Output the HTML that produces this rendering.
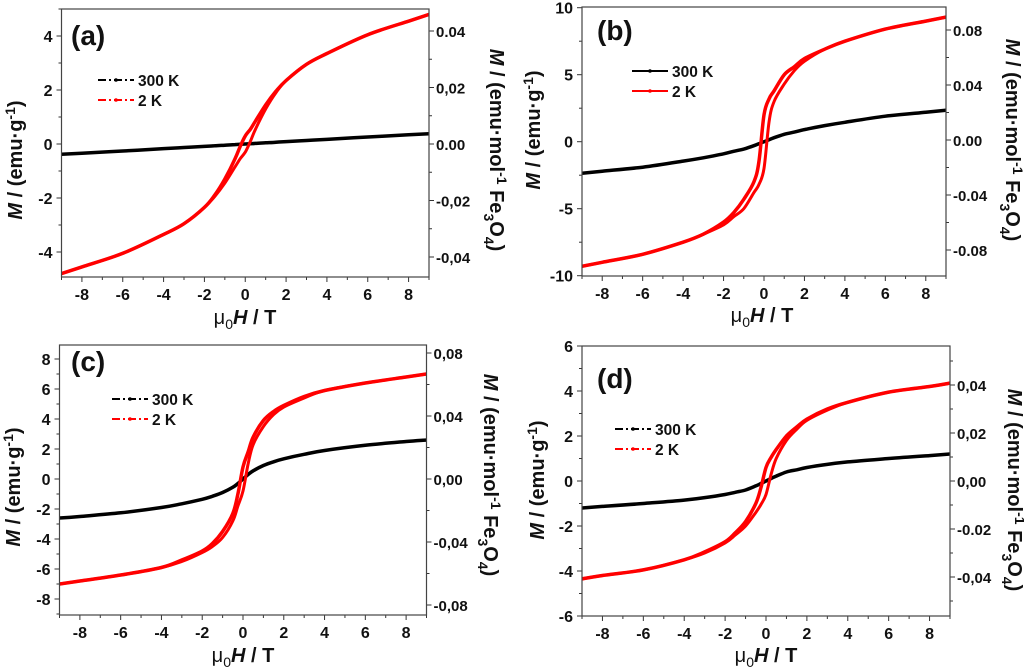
<!DOCTYPE html>
<html><head><meta charset="utf-8"><style>
html,body{margin:0;padding:0;background:#fff;}
svg{display:block;font-family:"Liberation Sans",Arial,sans-serif;font-weight:bold;}
</style></head><body>
<svg id="fig" width="1024" height="671" viewBox="0 0 1024 671" xmlns="http://www.w3.org/2000/svg"></svg>
<script>
// Field values (T)
const fieldH = [-9,-8,-6,-4,-3,-2,-1.5,-1,-0.5,-0.25,0,0.25,0.5,1,1.5,2,3,4,6,8,9];
// Panel (a)
const a2KDown = [-4.8,-4.55,-4.05,-3.35,-2.95,-2.35,-1.9,-1.3,-0.55,-0.1,0.3,0.55,0.85,1.45,1.95,2.35,2.95,3.35,4.05,4.55,4.8];
const a2KUp   = [-4.8,-4.55,-4.05,-3.35,-2.95,-2.35,-1.95,-1.45,-0.85,-0.55,-0.3,0.1,0.55,1.3,1.9,2.35,2.95,3.35,4.05,4.55,4.8];
const a300K   = [-0.38,-0.34,-0.26,-0.17,-0.13,-0.09,-0.065,-0.043,-0.022,-0.011,0,0.011,0.022,0.043,0.065,0.09,0.13,0.17,0.26,0.34,0.38];
// Panel (b)
const b2KDown = [-9.3,-9.0,-8.4,-7.5,-6.9,-6.0,-5.3,-4.3,-3.0,-1.5,2.0,3.2,3.8,5.0,5.6,6.2,6.9,7.5,8.4,9.0,9.3];
const b2KUp   = [-9.3,-9.0,-8.4,-7.5,-6.9,-6.2,-5.6,-5.0,-3.8,-3.2,-2.0,1.5,3.0,4.3,5.3,6.0,6.9,7.5,8.4,9.0,9.3];
const b300K   = [-2.35,-2.2,-1.9,-1.45,-1.2,-0.9,-0.72,-0.55,-0.3,-0.15,0,0.15,0.3,0.55,0.72,0.9,1.2,1.45,1.9,2.2,2.35];
// Panel (c)
const c2KDown = [-7.0,-6.8,-6.4,-5.9,-5.4,-4.8,-4.3,-3.5,-2.3,-1.0,0.8,1.8,2.8,3.9,4.5,4.9,5.5,5.9,6.4,6.8,7.0];
const c2KUp   = [-7.0,-6.8,-6.4,-5.9,-5.5,-4.9,-4.5,-3.9,-2.8,-1.8,-0.8,1.0,2.3,3.5,4.3,4.8,5.4,5.9,6.4,6.8,7.0];
const c300K   = [-2.6,-2.5,-2.25,-1.9,-1.65,-1.35,-1.15,-0.9,-0.55,-0.3,0,0.3,0.55,0.9,1.15,1.35,1.65,1.9,2.25,2.5,2.6];
// Panel (d)
const d2KDown = [-4.35,-4.2,-3.95,-3.5,-3.15,-2.7,-2.3,-1.8,-1.0,-0.3,0.6,1.05,1.4,2.0,2.4,2.75,3.2,3.5,3.95,4.2,4.35];
const d2KUp   = [-4.35,-4.2,-3.95,-3.5,-3.2,-2.75,-2.4,-2.0,-1.4,-1.05,-0.6,0.3,1.0,1.8,2.3,2.7,3.15,3.5,3.95,4.2,4.35];
const d300K   = [-1.2,-1.13,-1.0,-0.85,-0.74,-0.6,-0.5,-0.4,-0.22,-0.11,0,0.11,0.22,0.4,0.5,0.6,0.74,0.85,1.0,1.13,1.2];
// Tick labels
const xTicks = [-8,-6,-4,-2,0,2,4,6,8];
const aLeftTicks = [-4,-2,0,2,4];
const bLeftTicks = [-10,-5,0,5,10];
const cLeftTicks = [-8,-6,-4,-2,0,2,4,6,8];
const dLeftTicks = [-6,-4,-2,0,2,4,6];
const aRightTicks = [-0.04,-0.02,0,0.02,0.04];
const aRightLabels = ["-0,04","-0,02","0.00","0,02","0.04"];
const bRightTicks = [-0.08,-0.04,0,0.04,0.08];
const bRightLabels = ["-0.08","-0.04","0.00","0.04","0.08"];
const cRightTicks = [-0.08,-0.04,0,0.04,0.08];
const cRightLabels = ["-0,08","-0,04","0,00","0,04","0,08"];
const dRightTicks = [-0.04,-0.02,0,0.02,0.04];
const dRightLabels = ["-0,04","-0.02","0,00","0,02","0,04"];

const NS="http://www.w3.org/2000/svg";
const svg=document.getElementById('fig');
function mk(tag,attrs,parent){const e=document.createElementNS(NS,tag);for(const k in attrs)e.setAttribute(k,attrs[k]);(parent||svg).appendChild(e);return e;}

const panels=[
 {id:'a',x0:61.5,x1:429,top:9,bot:277,yPx0:144,yPx1:36,yv0:0,yv1:4,lt:aLeftTicks,lminor:1,
  r0:144,r1:31,rv1:0.04,rt:aRightTicks,rl:aRightLabels,rminor:0.01,down:a2KDown,up:a2KUp,rt300:a300K,
  leg:[98,80],label:[71,45],ltitle:[22,160],rtitle:[490,150],xtitle:[245,324]},
 {id:'b',x0:582,x1:946,top:7,bot:276,yPx0:141.7,yPx1:74.7,yv0:0,yv1:5,lt:bLeftTicks,lminor:2.5,
  r0:140,r1:85,rv1:0.04,rt:bRightTicks,rl:bRightLabels,rminor:0.02,down:b2KDown,up:b2KUp,rt300:b300K,
  leg:[632,71],label:[597,40],ltitle:[540,130],rtitle:[1006,140],xtitle:[762,322]},
 {id:'c',x0:59.5,x1:426.5,top:345,bot:615,yPx0:479,yPx1:449,yv0:0,yv1:2,lt:cLeftTicks,lminor:1,
  r0:479,r1:416,rv1:0.04,rt:cRightTicks,rl:cRightLabels,rminor:0.02,down:c2KDown,up:c2KUp,rt300:c300K,
  leg:[112,399],label:[71,371],ltitle:[20,487],rtitle:[484,475],xtitle:[243,662]},
 {id:'d',x0:582,x1:950,top:346,bot:616,yPx0:481,yPx1:436,yv0:0,yv1:2,lt:dLeftTicks,lminor:1,
  r0:481,r1:433,rv1:0.02,rt:dRightTicks,rl:dRightLabels,rminor:0.01,down:d2KDown,up:d2KUp,rt300:d300K,
  leg:[615,429],label:[597,388],ltitle:[544,480],rtitle:[1008,490],xtitle:[766,662]}
];

function smoothPath(P){
  let d='M'+P[0][0].toFixed(1)+','+P[0][1].toFixed(1);
  for(let i=0;i<P.length-1;i++){
    const p0=P[Math.max(0,i-1)],p1=P[i],p2=P[i+1],p3=P[Math.min(P.length-1,i+2)];
    const c1x=p1[0]+(p2[0]-p0[0])/6,c1y=p1[1]+(p2[1]-p0[1])/6;
    const c2x=p2[0]-(p3[0]-p1[0])/6,c2y=p2[1]-(p3[1]-p1[1])/6;
    d+=' C'+c1x.toFixed(1)+','+c1y.toFixed(1)+' '+c2x.toFixed(1)+','+c2y.toFixed(1)+' '+p2[0].toFixed(1)+','+p2[1].toFixed(1);
  }
  return d;
}

panels.forEach(p=>{
  const g=mk('g',{});
  
  
  const sx=v=>p.x0+(v+9)/18*(p.x1-p.x0);
  const sy=v=>p.yPx0+(v-p.yv0)/(p.yv1-p.yv0)*(p.yPx1-p.yPx0);
  const sr=v=>p.r0+v/p.rv1*(p.r1-p.r0);
  const yBotVal=(p.bot-p.yPx0)/(p.yPx1-p.yPx0)*(p.yv1-p.yv0);
  const yTopVal=(p.top-p.yPx0)/(p.yPx1-p.yPx0)*(p.yv1-p.yv0);
  const cp=mk('clipPath',{id:'clip'+p.id},g);
  mk('rect',{x:p.x0,y:p.top,width:p.x1-p.x0,height:p.bot-p.top},cp);
  for(let v=-9;v<=9;v++){
    const major=v%2===0;
    const t=mk('line',{x1:sx(v),x2:sx(v),y1:p.bot,y2:p.bot+(major?5:3),stroke:'#333','stroke-width':1},g);
    
    
  }
  xTicks.forEach(v=>{
    const t=mk('text',{x:sx(v),y:p.bot+23,'text-anchor':'middle','font-size':16,fill:'#111'},g);
    t.textContent=String(v);
    
    
  });
  for(let v=Math.ceil(yBotVal/p.lminor)*p.lminor;v<=yTopVal+1e-9;v+=p.lminor){
    const major=p.lt.some(m=>Math.abs(m-v)<1e-6);
    const t=mk('line',{x1:p.x0,x2:p.x0-(major?5:3),y1:sy(v),y2:sy(v),stroke:'#333','stroke-width':1},g);
    
    
  }
  p.lt.forEach(v=>{
    const t=mk('text',{x:p.x0-9,y:sy(v)+6,'text-anchor':'end','font-size':16,fill:'#111'},g);
    t.textContent=String(v);
    
    
  });
  const rb=(p.bot-p.r0)/(p.r1-p.r0)*p.rv1, rtp=(p.top-p.r0)/(p.r1-p.r0)*p.rv1;
  for(let v=Math.ceil(rb/p.rminor)*p.rminor;v<=rtp+1e-9;v+=p.rminor){
    const major=p.rt.some(m=>Math.abs(m-v)<1e-6);
    const t=mk('line',{x1:p.x1,x2:p.x1+(major?5:3),y1:sr(v),y2:sr(v),stroke:'#333','stroke-width':1},g);
    
    
  }
  p.rt.forEach((v,i)=>{
    const t=mk('text',{x:p.x1+7,y:sr(v)+6,'text-anchor':'start','font-size':15,fill:'#111'},g);
    t.textContent=p.rl[i];
    
    
  });
  const pts=arr=>arr.map((m,i)=>[sx(fieldH[i]),sy(m)]);
  const cg=mk('g',{'clip-path':'url(#clip'+p.id+')'},g);
  const s3=mk('path',{d:smoothPath(pts(p.rt300)),fill:'none',stroke:'#000','stroke-width':3.5,'stroke-linejoin':'round'},cg);
  
  
  const sd=mk('path',{d:smoothPath(pts(p.down)),fill:'none',stroke:'#f00','stroke-width':3.5,'stroke-linejoin':'round'},cg);
  
  
  const su=mk('path',{d:smoothPath(pts(p.up)),fill:'none',stroke:'#f00','stroke-width':3,'stroke-linejoin':'round'},cg);
  
  
  const fr=mk('rect',{x:p.x0,y:p.top,width:p.x1-p.x0,height:p.bot-p.top,fill:'none',stroke:'#444','stroke-width':1.2},g);
  
  
  const lb=mk('text',{x:p.label[0],y:p.label[1],'font-size':28,fill:'#111'},g);
  lb.textContent='('+p.id+')';
  
  
  const lg=mk('g',{},g);
  
  
  [['300 K','#000'],['2 K','#f00']].forEach((e,i)=>{
    const y=p.leg[1]+i*20;
    const dash=p.id==='b'?'none':'8,3,2,3';
    const l=mk('line',{x1:p.leg[0],x2:p.leg[0]+36,y1:y,y2:y,stroke:e[1],'stroke-width':2,'stroke-dasharray':dash},lg);
    
    
    mk('circle',{cx:p.leg[0]+18,cy:y,r:1.8,fill:e[1]},lg);
    const t=mk('text',{x:p.leg[0]+40,y:y+6,'font-size':15.5,fill:'#111'},lg);
    t.textContent=e[0];
    
    
  });
  const lt=mk('text',{x:0,y:0,'font-size':20,fill:'#111','text-anchor':'middle',transform:`translate(${p.ltitle[0]},${p.ltitle[1]}) rotate(-90)`},g);
  lt.innerHTML='<tspan font-style="italic">M</tspan> / (emu·g<tspan dy="-7" font-size="14">-1</tspan><tspan dy="7">)</tspan>';
  
  
  const rt=mk('text',{x:0,y:0,'font-size':20,fill:'#111','text-anchor':'middle',transform:`translate(${p.rtitle[0]},${p.rtitle[1]}) rotate(90)`},g);
  rt.innerHTML='<tspan font-style="italic">M</tspan> / (emu·mol<tspan dy="-7" font-size="14">-1</tspan><tspan dy="7"> Fe</tspan><tspan dy="6" font-size="14">3</tspan><tspan dy="-6">O</tspan><tspan dy="6" font-size="14">4</tspan><tspan dy="-6">)</tspan>';
  
  
  const xt=mk('text',{x:p.xtitle[0],y:p.xtitle[1],'font-size':20,fill:'#111','text-anchor':'middle'},g);
  xt.innerHTML='<tspan font-weight="normal">μ</tspan><tspan dy="5" font-size="14" font-weight="normal">0</tspan><tspan dy="-5" font-style="italic">H</tspan> / T';
  
  
});
</script>
</body></html>
